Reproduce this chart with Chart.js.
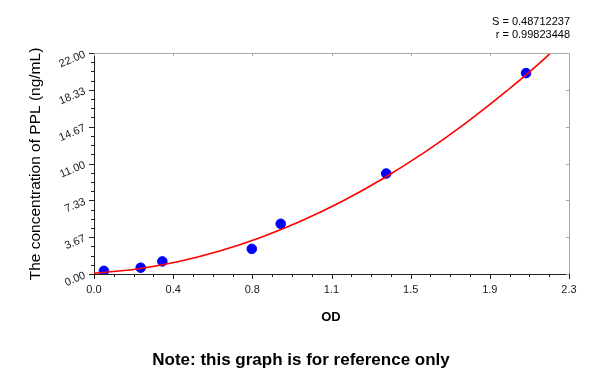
<!DOCTYPE html>
<html>
<head>
<meta charset="utf-8">
<script src="https://cdn.jsdelivr.net/npm/chart.js@4/dist/chart.umd.min.js"></script>
<style>
  html, body { margin: 0; padding: 0; background: #fff; }
  #wrap { width: 600px; height: 373px; }
</style>
</head>
<body>
<div id="wrap"><canvas id="chart" width="600" height="373"></canvas></div>
<script>
// standards (OD vs concentration)
const pointOD = [0.048, 0.226, 0.331, 0.764, 0.904, 1.415, 2.092];
const pointConc = [0.312, 0.625, 1.25, 2.5, 5, 10, 20];

// fitted curve
const curveOD = [0, 0.2, 0.4, 0.6, 0.8, 1.0, 1.2, 1.4, 1.6, 1.8, 2.0, 2.2, 2.21];
const curveConc = [0.07, 0.48, 1.2, 2.24, 3.59, 5.25, 7.22, 9.51, 12.11, 15.03, 18.25, 21.79, 22.0];

const xTicks = [0, 0.3833, 0.7667, 1.15, 1.5333, 1.9167, 2.3];
const xTickLabels = ['0.0', '0.4', '0.8', '1.1', '1.5', '1.9', '2.3'];
const yTicks = [0, 3.667, 7.333, 11, 14.667, 18.333, 22];
const yTickLabels = ['0.00', '3.67', '7.33', '11.00', '14.67', '18.33', '22.00'];

const statLines = ['S = 0.48712237', 'r = 0.99823448'];

const FONT = 'Arial, "Liberation Sans", sans-serif';

/* ===========================
   EXTRAS: ticks, borders, texts
=========================== */

const extras = {
  id: 'extras',
  afterDraw(chart) {
    const ctx = chart.ctx;
    const area = chart.chartArea;
    const xs = chart.scales.x;
    const ys = chart.scales.y;

    ctx.save();

    // top / right frame
    ctx.strokeStyle = '#a8a8a8';
    ctx.lineWidth = 1;
    ctx.beginPath();
    ctx.moveTo(area.left, area.top + 0.5);
    ctx.lineTo(area.right + 0.5, area.top + 0.5);
    ctx.lineTo(area.right + 0.5, area.bottom);
    ctx.stroke();

    ctx.beginPath();
    xTicks.forEach(v => {
      const px = Math.round(xs.getPixelForValue(v)) + 0.5;
      ctx.moveTo(px, area.top);
      ctx.lineTo(px, area.top + 3);
    });
    yTicks.forEach(v => {
      const py = Math.round(ys.getPixelForValue(v)) + 0.5;
      ctx.moveTo(area.right, py);
      ctx.lineTo(area.right - 3, py);
    });
    ctx.stroke();

    // major + minor ticks on the axes
    ctx.strokeStyle = '#202020';
    ctx.beginPath();
    for (let i = 0; i < xTicks.length; i++) {
      const px = Math.round(xs.getPixelForValue(xTicks[i])) + 0.5;
      ctx.moveTo(px, area.bottom);
      ctx.lineTo(px, area.bottom + 5);
      if (i < xTicks.length - 1) {
        for (let k = 1; k < 4; k++) {
          const v = xTicks[i] + (xTicks[i + 1] - xTicks[i]) * k / 4;
          const mx = Math.round(xs.getPixelForValue(v)) + 0.5;
          ctx.moveTo(mx, area.bottom);
          ctx.lineTo(mx, area.bottom + 3);
        }
      }
    }
    for (let i = 0; i < yTicks.length; i++) {
      const py = Math.round(ys.getPixelForValue(yTicks[i])) + 0.5;
      ctx.moveTo(area.left, py);
      ctx.lineTo(area.left - 5, py);
      if (i < yTicks.length - 1) {
        for (let k = 1; k < 4; k++) {
          const v = yTicks[i] + (yTicks[i + 1] - yTicks[i]) * k / 4;
          const my = Math.round(ys.getPixelForValue(v)) + 0.5;
          ctx.moveTo(area.left, my);
          ctx.lineTo(area.left - 3, my);
        }
      }
    }
    ctx.stroke();

    // slanted y tick labels
    ctx.fillStyle = '#202020';
    ctx.font = '11px ' + FONT;
    ctx.textAlign = 'right';
    ctx.textBaseline = 'middle';
    yTicks.forEach((v, i) => {
      const py = ys.getPixelForValue(v);
      ctx.save();
      ctx.translate(area.left - 9, py + 1);
      ctx.rotate(-23 * Math.PI / 180);
      ctx.fillText(yTickLabels[i], 0, 0);
      ctx.restore();
    });

    // y title
    ctx.save();
    ctx.translate(36, 164);
    ctx.rotate(-Math.PI / 2);
    ctx.textAlign = 'center';
    ctx.textBaseline = 'middle';
    ctx.font = '15.5px ' + FONT;
    ctx.fillStyle = '#000';
    ctx.fillText('The concentration of PPL (ng/mL)', 0, 0);
    ctx.restore();

    // x title
    ctx.textAlign = 'center';
    ctx.textBaseline = 'middle';
    ctx.fillStyle = '#000';
    ctx.font = 'bold 13px ' + FONT;
    ctx.fillText('OD', 331, 317);

    // note
    ctx.font = 'bold 17px ' + FONT;
    ctx.fillText('Note: this graph is for reference only', 301, 360);

    // fit stats
    ctx.textAlign = 'right';
    ctx.font = '11px ' + FONT;
    ctx.fillText(statLines[0], 570, 22);
    ctx.fillText(statLines[1], 570, 35);

    ctx.restore();
  }
};

/* ===========================
   CHART
=========================== */

new Chart(document.getElementById('chart'), {
  type: 'scatter',
  data: {
    datasets: [
      {
        label: 'Standards',
        data: pointOD.map((x, i) => ({ x, y: pointConc[i] })),
        backgroundColor: '#0000ff',
        borderColor: '#0000ff',
        pointRadius: 4.8,
        order: 2
      },
      {
        label: 'Fit',
        type: 'line',
        data: curveOD.map((x, i) => ({ x, y: curveConc[i] })),
        borderColor: '#ff0000',
        borderWidth: 1.6,
        pointRadius: 0,
        tension: 0.4,
        cubicInterpolationMode: 'monotone',
        fill: false,
        order: 1
      }
    ]
  },
  options: {
    responsive: false,
    animation: false,
    events: [],
    layout: { padding: { left: 0, right: 31, top: 53, bottom: 0 } },
    plugins: {
      legend: { display: false },
      tooltip: { enabled: false }
    },
    scales: {
      x: {
        type: 'linear',
        min: 0,
        max: 2.3,
        afterFit: s => { s.height = 99; },
        afterBuildTicks: s => { s.ticks = xTicks.map(v => ({ value: v })); },
        grid: { display: false, drawTicks: false },
        border: { display: true, color: '#202020', width: 1 },
        ticks: {
          autoSkip: false,
          maxRotation: 0,
          padding: 9,
          color: '#202020',
          font: { family: FONT, size: 11 },
          callback: (v, i) => xTickLabels[i]
        }
      },
      y: {
        type: 'linear',
        min: 0,
        max: 22,
        afterFit: s => { s.width = 94; },
        afterBuildTicks: s => { s.ticks = yTicks.map(v => ({ value: v })); },
        grid: { display: false, drawTicks: false },
        border: { display: true, color: '#202020', width: 1 },
        ticks: { display: false }
      }
    }
  },
  plugins: [extras]
});
</script>
</body>
</html>
